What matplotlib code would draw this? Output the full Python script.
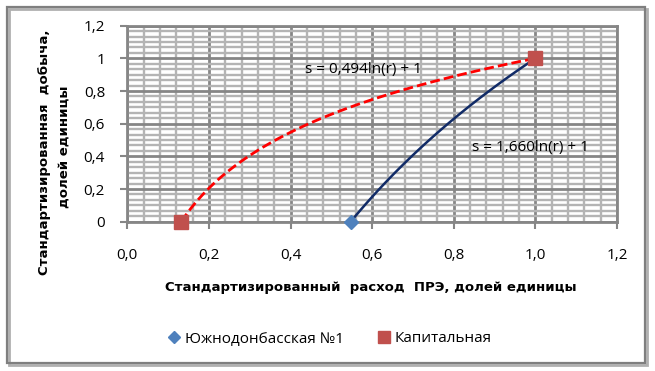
import matplotlib.pyplot as plt
import numpy as np
from matplotlib.patches import Rectangle
from matplotlib.ticker import MultipleLocator, FuncFormatter

# Series points (standardized PRE consumption, standardized production)
names = ['Южнодонбасская №1', 'Капитальная']
x_south = [0.547, 1.0]
y_south = [0.0, 1.0]
x_kap = [0.132, 1.0]
y_kap = [0.0, 1.0]

# log trendline coefficients s = a*ln(r) + 1
a_south = 1.660
a_kap = 0.494

plt.rcParams['font.family'] = ['Open Sans', 'DejaVu Sans']

W, H = 655, 371
fig = plt.figure(figsize=(W / 100, H / 100), dpi=100)

# outer chart frame with a small shadow
fig.patches.append(Rectangle((9 / W, 1 - 365 / H), 638 / W, 356 / H,
                             transform=fig.transFigure, fill=False,
                             ec='#b0b0b0', lw=2.0, zorder=0))
fig.patches.append(Rectangle((7 / W, 1 - 363 / H), 638 / W, 356 / H,
                             transform=fig.transFigure, fill=False,
                             ec='#7f7f7f', lw=1.6, zorder=1))

ax = fig.add_axes([127.3 / W, 1 - 221.7 / H, 489.7 / W, 196.0 / H])
ax.set_xlim(0, 1.2)
ax.set_ylim(0, 1.2)

ax.xaxis.set_major_locator(MultipleLocator(0.2))
ax.xaxis.set_minor_locator(MultipleLocator(0.04))
ax.yaxis.set_major_locator(MultipleLocator(0.2))
ax.yaxis.set_minor_locator(MultipleLocator(0.2 / 6))

ax.grid(which='minor', color='#b4b4b4', lw=1.7)
ax.grid(which='major', color='#868686', lw=2.0)
ax.set_axisbelow(True)
for s in ax.spines.values():
    s.set_color('#868686')
    s.set_linewidth(2.0)

ax.xaxis.set_major_formatter(FuncFormatter(lambda v, p: f'{v:.1f}'.replace('.', ',')))
ax.yaxis.set_major_formatter(FuncFormatter(
    lambda v, p: '0' if abs(v) < 1e-9 else ('1' if abs(v - 1) < 1e-9 else f'{v:.1f}'.replace('.', ','))))
ax.tick_params(which='major', direction='out', length=5, width=1.5, color='#868686',
               labelsize=11, labelcolor='black')
ax.tick_params(axis='x', pad=14)
ax.tick_params(axis='y', pad=11)
ax.tick_params(which='minor', length=0)

# trendlines
r1 = np.linspace(min(x_south), max(x_south), 100)
ax.plot(r1, a_south * np.log(r1) + 1, color='#112b67', lw=1.8, zorder=3)
r2 = np.linspace(min(x_kap), max(x_kap), 100)
ax.plot(r2, a_kap * np.log(r2) + 1, color='#ff0000', lw=2.0, ls=(0, (3.5, 1.5)), zorder=3)

ax.plot(x_south, y_south, ls='none', marker='D', ms=7, color='#4f81bd',
        label=names[0], zorder=4, clip_on=False)
ax.plot(x_kap, y_kap, ls='none', marker='s', ms=10, color='#c0504d',
        label=names[1], zorder=5, clip_on=False)

ax.text(0.435, 0.93, f's = {a_kap:.3f}'.replace('.', ',') + 'ln(r) + 1',
        fontsize=11, va='center', ha='left')
ax.text(0.845, 0.455, f's = {a_south:.3f}'.replace('.', ',') + 'ln(r) + 1',
        fontsize=11, va='center', ha='left')

fig.text(371 / W, 1 - 288 / H, 'Стандартизированный  расход  ПРЭ, долей единицы',
         fontsize=9.5, fontweight='bold', family='DejaVu Sans', ha='center', va='center')
fig.text(45 / W, 1 - 152 / H, 'Стандартизированная  добыча,',
         fontsize=9.5, fontweight='bold', family='DejaVu Sans', ha='center', va='center',
         rotation=90)
fig.text(64 / W, 1 - 147 / H, 'долей единицы',
         fontsize=9.5, fontweight='bold', family='DejaVu Sans', ha='center', va='center',
         rotation=90)

fig.legend(loc='center', bbox_to_anchor=(330 / W, 1 - 339 / H), ncol=2, frameon=False,
           fontsize=11, handlelength=0.8, handletextpad=0.3, columnspacing=2.2,
           markerscale=0.9)

fig.savefig('out.png', dpi=100)
